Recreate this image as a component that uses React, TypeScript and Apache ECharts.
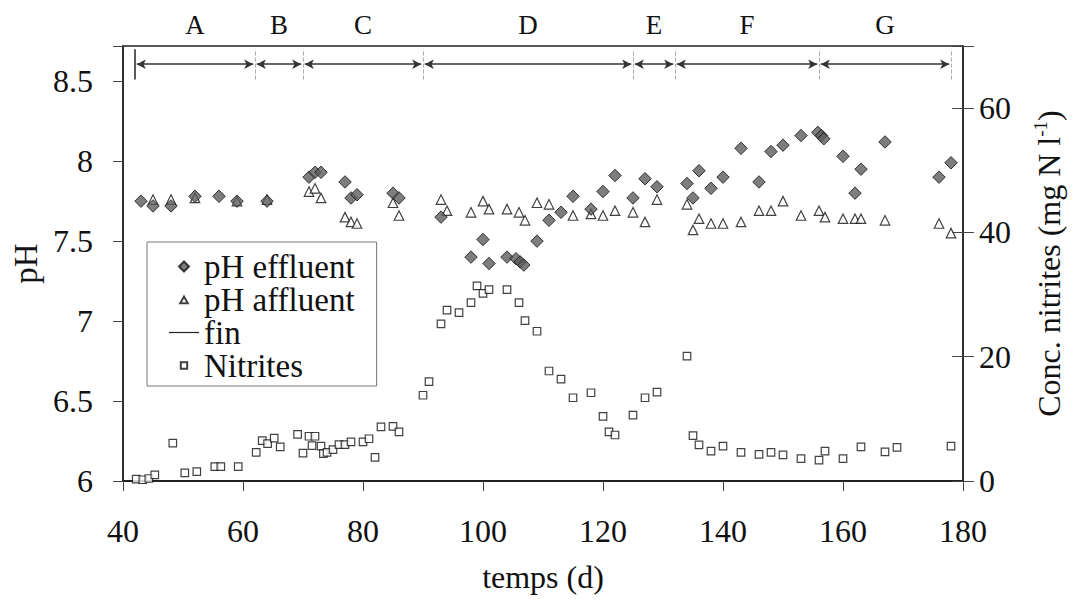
import React, { useEffect, useRef } from "react";
import * as echarts from "echarts";

const FONT = "Liberation Serif";

// pH effluent (days, pH)
const effluentDays = [43, 45, 48, 52, 56, 59, 64, 71, 72, 73, 77, 78, 79, 85, 86, 93, 98, 100, 101, 104, 105.5, 106.2, 106.8, 109, 111, 113, 115, 118, 120, 122, 125, 127, 129, 134, 135, 136, 138, 140, 143, 146, 148, 150, 153, 155.8, 156.4, 156.8, 160, 162, 163, 167, 176, 178];
const effluentPH = [7.75, 7.72, 7.72, 7.78, 7.78, 7.75, 7.75, 7.9, 7.93, 7.93, 7.87, 7.77, 7.79, 7.8, 7.77, 7.65, 7.4, 7.51, 7.36, 7.4, 7.39, 7.37, 7.35, 7.5, 7.63, 7.68, 7.78, 7.7, 7.81, 7.91, 7.77, 7.89, 7.84, 7.86, 7.77, 7.94, 7.83, 7.9, 8.08, 7.87, 8.06, 8.1, 8.16, 8.18, 8.16, 8.14, 8.03, 7.8, 7.95, 8.12, 7.9, 7.99];

// pH affluent (days, pH)
const affluentDays = [45, 48, 52, 59, 64, 71, 72, 73, 77, 78, 79, 85, 86, 93, 94, 98, 100, 101, 104, 106, 107, 109, 111, 115, 118, 120, 122, 125, 127, 129, 134, 135, 136, 138, 140, 143, 146, 148, 150, 153, 156, 157, 160, 162, 163, 167, 176, 178];
const affluentPH = [7.76, 7.76, 7.77, 7.75, 7.76, 7.81, 7.83, 7.77, 7.65, 7.62, 7.61, 7.74, 7.66, 7.76, 7.69, 7.68, 7.75, 7.7, 7.7, 7.68, 7.63, 7.74, 7.73, 7.66, 7.67, 7.66, 7.69, 7.68, 7.62, 7.76, 7.73, 7.57, 7.64, 7.61, 7.61, 7.62, 7.69, 7.69, 7.75, 7.66, 7.69, 7.65, 7.64, 7.64, 7.64, 7.63, 7.61, 7.55];

// Nitrites (days, mg N/l)
const nitriteDays = [42.2, 43.3, 44.3, 45.3, 48.3, 50.3, 52.3, 55.3, 56.3, 59.2, 62.2, 63.2, 64.1, 65.2, 66.2, 69.1, 70, 71, 71.5, 72, 73, 73.4, 74, 75, 76, 77, 78, 80, 81, 82, 83, 85, 86, 90, 91, 93, 94, 96, 98, 99, 100, 101, 104, 106, 107, 109, 111, 113, 115, 118, 120, 121, 122, 125, 127, 129, 134, 135, 136, 138, 140, 143, 146, 148, 150, 153, 156, 157, 160, 163, 167, 169, 178];
const nitriteConc = [0.3, 0.2, 0.4, 1.0, 6.1, 1.3, 1.5, 2.3, 2.3, 2.3, 4.6, 6.5, 6.0, 6.9, 5.5, 7.5, 4.5, 7.2, 5.7, 7.2, 5.6, 4.4, 4.6, 5.05, 5.85, 5.85, 6.3, 6.3, 6.8, 3.8, 8.7, 8.8, 7.9, 13.8, 16.0, 25.3, 27.5, 27.1, 28.7, 31.4, 30.2, 30.8, 30.8, 28.7, 25.8, 24.1, 17.7, 16.4, 13.4, 14.2, 10.4, 7.9, 7.4, 10.6, 13.4, 14.3, 20.1, 7.3, 5.8, 4.8, 5.6, 4.6, 4.3, 4.6, 4.2, 3.6, 3.35, 4.8, 3.6, 5.5, 4.7, 5.4, 5.6];

// phases
const phaseBounds = [42, 62, 70, 90, 125, 132, 156, 178];
const phaseLabels = ["A", "B", "C", "D", "E", "F", "G"];

const ARROW_PH = 8.606;
const BOUND_LOW = 8.51;
const BOUND_HIGH = 8.7;

// legend icons (padded with move-to points so they keep a small size)
const ICON_DIAMOND = "path://M0,0M10,10M5,0L10,5L5,10L0,5Z";
const ICON_TRIANGLE = "path://M0,0M10,10M5,2L8.8,8.8L1.2,8.8Z";
const ICON_RECT = "path://M0,0M10,10M1.8,1.8L8.2,1.8L8.2,8.2L1.8,8.2Z";
const ICON_LINE = "path://M0,0L30,0L30,1.2L0,1.2Z";

function zip(xs: number[], ys: number[]) {
  return xs.map((x, i) => [x, ys[i]]);
}

export default function App() {
  const ref = useRef<HTMLDivElement>(null);

  useEffect(() => {
    if (!ref.current) return;
    const chart = echarts.init(ref.current, null, { renderer: "svg" });

    const boundaryLines = phaseBounds.map((d, i) => [
      {
        coord: [d, BOUND_LOW],
        lineStyle:
          i === 0
            ? { color: "#222", width: 1.5, type: "solid" }
            : { color: "#aaa", width: 1, type: "dashed" },
      },
      { coord: [d, BOUND_HIGH] },
    ]);

    const arrowLines = phaseLabels.map((lab, i) => [
      { coord: [phaseBounds[i] + 0.3, ARROW_PH], name: lab },
      { coord: [phaseBounds[i + 1] - 0.3, ARROW_PH] },
    ]);

    const option: any = {
      animation: false,
      backgroundColor: "#fff",
      textStyle: { fontFamily: FONT, color: "#111" },
      grid: {
        left: 123,
        right: 112,
        top: 46,
        bottom: 123,
        show: true,
        borderColor: "#222",
        borderWidth: 1.5,
        backgroundColor: "transparent",
      },
      legend: {
        orient: "vertical",
        left: 147,
        top: 242,
        data: [
          { name: "pH effluent", icon: ICON_DIAMOND },
          { name: "pH affluent", icon: ICON_TRIANGLE },
          { name: "fin", icon: ICON_LINE },
          { name: "Nitrites", icon: ICON_RECT },
        ],
        itemWidth: 30,
        itemHeight: 10,
        itemGap: 0,
        itemTextGap: 10,
        padding: [8, 22, 4, 22],
        borderColor: "#777",
        borderWidth: 1,
        backgroundColor: "#fff",
        selectedMode: false,
        textStyle: { fontFamily: FONT, fontSize: 33, color: "#111", lineHeight: 32 },
      },
      xAxis: {
        type: "value",
        min: 40,
        max: 180,
        interval: 20,
        name: "temps (d)",
        nameLocation: "middle",
        nameGap: 80,
        nameTextStyle: { fontFamily: FONT, fontSize: 32, color: "#111" },
        axisLine: { show: true, onZero: false, lineStyle: { color: "#222", width: 2 } },
        axisTick: { show: true, inside: false, length: 10, lineStyle: { color: "#444", width: 1 } },
        axisLabel: { margin: 34, fontFamily: FONT, fontSize: 32, color: "#111" },
        splitLine: { show: false },
      },
      yAxis: [
        {
          type: "value",
          position: "left",
          min: 6,
          max: 8.72,
          interval: 0.5,
          name: "pH",
          nameLocation: "middle",
          nameRotate: 90,
          nameGap: 74,
          nameTextStyle: { fontFamily: FONT, fontSize: 33, color: "#111" },
          axisLine: { show: true, onZero: false, lineStyle: { color: "#222", width: 1.5 } },
          axisTick: { show: true, inside: false, length: 10, lineStyle: { color: "#444", width: 1 } },
          axisLabel: {
            margin: 30,
            fontFamily: FONT,
            fontSize: 32,
            color: "#111",
            formatter: (v: number) =>
              Math.abs(v * 2 - Math.round(v * 2)) < 1e-6 ? String(Math.round(v * 10) / 10) : "",
          },
          splitLine: { show: false },
        },
        {
          type: "value",
          position: "right",
          min: 0,
          max: 70,
          interval: 20,
          name: "{a|Conc. nitrites (mg N l}{s|-1}{a|)}",
          nameLocation: "middle",
          nameRotate: 90,
          nameGap: 68,
          nameTextStyle: {
            fontFamily: FONT,
            color: "#111",
            rich: {
              a: { fontFamily: FONT, fontSize: 32, color: "#111", lineHeight: 36 },
              s: { fontFamily: FONT, fontSize: 19, color: "#111", lineHeight: 18, verticalAlign: "top" },
            },
          },
          axisLine: { show: true, onZero: false, lineStyle: { color: "#222", width: 1.5 } },
          axisTick: { show: true, inside: false, length: 11, lineStyle: { color: "#444", width: 1 } },
          axisLabel: {
            margin: 16,
            fontFamily: FONT,
            fontSize: 32,
            color: "#111",
            formatter: (v: number) => (v % 20 === 0 ? String(v) : ""),
          },
          splitLine: { show: false },
        },
        {
          type: "value",
          position: "right",
          min: 0,
          max: 70,
          interval: 20,
          axisLine: { show: false },
          axisTick: { show: true, inside: true, length: 11, lineStyle: { color: "#444", width: 1 } },
          axisLabel: { show: false },
          splitLine: { show: false },
        },
      ],
      series: [
        {
          name: "pH effluent",
          type: "scatter",
          yAxisIndex: 0,
          symbol: "diamond",
          symbolSize: 12.5,
          itemStyle: { color: "#5c5c5c", borderColor: "#111", borderWidth: 1 },
          data: zip(effluentDays, effluentPH),
          z: 3,
        },
        {
          name: "pH affluent",
          type: "scatter",
          yAxisIndex: 0,
          symbol: "triangle",
          symbolSize: 9.5,
          itemStyle: { color: "#fff", borderColor: "#111", borderWidth: 1.2 },
          data: zip(affluentDays, affluentPH),
          z: 2,
        },
        {
          name: "fin",
          type: "line",
          yAxisIndex: 0,
          data: [],
          symbol: "none",
          lineStyle: { color: "#222", width: 1 },
          itemStyle: { color: "#222" },
          markLine: {
            silent: true,
            symbol: ["none", "none"],
            label: { show: false },
            data: boundaryLines,
          },
        },
        {
          name: "phases",
          type: "line",
          yAxisIndex: 0,
          data: [],
          symbol: "none",
          markLine: {
            silent: true,
            symbol: ["arrow", "arrow"],
            symbolSize: [7, 9],
            lineStyle: { color: "#333", width: 1.5, type: "solid" },
            label: {
              show: true,
              position: "middle",
              distance: 26,
              formatter: (p: any) => p.name,
              fontFamily: FONT,
              fontSize: 27,
              color: "#111",
            },
            data: arrowLines,
          },
        },
        {
          name: "Nitrites",
          type: "scatter",
          yAxisIndex: 1,
          symbol: "rect",
          symbolSize: 7.5,
          itemStyle: { color: "#fff", borderColor: "#111", borderWidth: 1.2 },
          data: zip(nitriteDays, nitriteConc),
          z: 2,
        },
      ],
    };

    chart.setOption(option);
    return () => chart.dispose();
  }, []);

  return (
    <div
      ref={ref}
      style={{ position: "fixed", left: 0, top: 0, width: 1075, height: 604, background: "#fff" }}
    />
  );
}
